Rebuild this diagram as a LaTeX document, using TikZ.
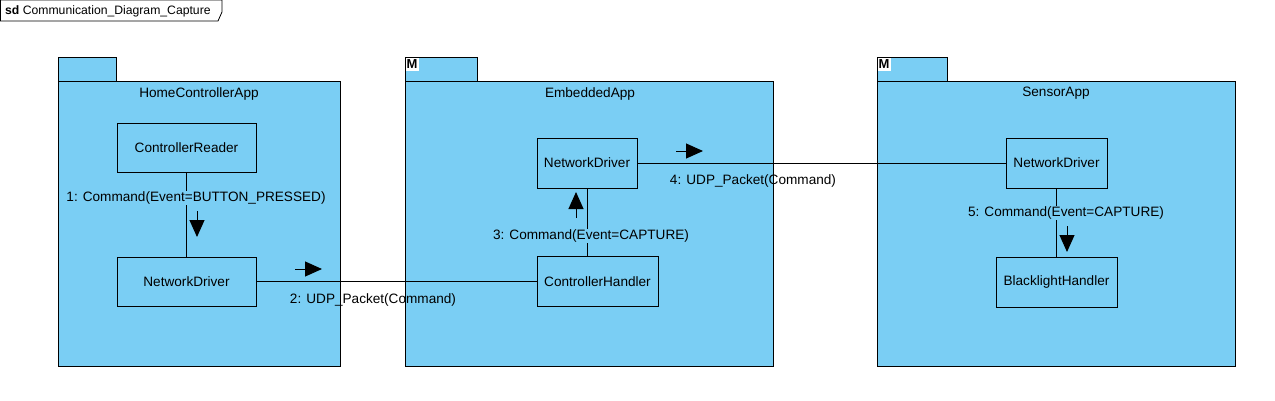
\documentclass[tikz,border=0pt]{standalone}
\usepackage{fontspec}
\setmainfont{Liberation Sans}
\usetikzlibrary{positioning,calc,arrows.meta}
\definecolor{pkgblue}{RGB}{122,206,244}
\tikzset{font=\fontsize{13.6}{16}\selectfont}

\begin{document}
\begin{tikzpicture}[x=1pt,y=-1pt,
	pkg/.style={draw, fill=pkgblue, line width=1pt, inner sep=0pt, anchor=north west},
	part/.style={draw, fill=pkgblue, line width=1pt, inner sep=0pt},
	msg/.style={fill=pkgblue, inner sep=1pt},
	micon/.style={fill=white, inner sep=0pt, minimum size=13pt, font=\fontsize{13}{13}\selectfont\bfseries},
	dir/.style={line width=1pt, -{Triangle[length=17pt,width=15pt]}}]
	\useasboundingbox (0,0) rectangle (1275,400);

	% sd frame
	\draw[line width=0.8pt] (0.5,0) -- (222,0) -- (222,12) -- (218,21) -- (0.5,21) -- cycle;
	\node[anchor=west, inner sep=0pt, font=\fontsize{12.2}{14}\selectfont] (sdtitle) at (5,11) {\textbf{sd} Communication\_Diagram\_Capture};

	% packages
	\node[pkg, minimum width=58, minimum height=24] (hometab) at (58,57) {};
	\node[pkg, minimum width=282, minimum height=285] (home) at (58,81) {};
	\node (hometitle) at (199,93.5) {HomeControllerApp};

	\node[pkg, minimum width=72, minimum height=24] (embtab) at (405,57) {};
	\node[pkg, minimum width=368, minimum height=285] (emb) at (405,81) {};
	\node[micon] (embm) at (412,64) {M};
	\node (embtitle) at (590,93.5) {EmbeddedApp};

	\node[pkg, minimum width=70, minimum height=24] (sentab) at (877,57) {};
	\node[pkg, minimum width=358, minimum height=285] (sen) at (877,81) {};
	\node[micon] (senm) at (884,64) {M};
	\node (sentitle) at (1056,93.5) {SensorApp};

	% parts
	\node[part, minimum width=139, minimum height=49] (reader) at (186.5,147.5) {ControllerReader};
	\node[part, minimum width=139, minimum height=49] (homend) at (186.5,281.5) {NetworkDriver};
	\node[part, minimum width=100, minimum height=50] (embnd) at (587,163) {NetworkDriver};
	\node[part, minimum width=121, minimum height=50] (handler) at (597.5,281.5) {ControllerHandler};
	\node[part, minimum width=101, minimum height=50] (sennd) at (1056.5,163) {NetworkDriver};
	\node[part, minimum width=121, minimum height=50] (blh) at (1056.5,282) {BlacklightHandler};

	% links
	\draw[line width=1pt] (reader) -- (homend);
	\draw[line width=1pt] (homend.east) -- (homend.east -| handler.west);
	\draw[line width=1pt] (embnd.south) -- (embnd.south |- handler.north);
	\draw[line width=1pt] (embnd.east) -- (sennd.west);
	\draw[line width=1pt] (sennd) -- (blh);

	% messages
	\node[msg] (m1) at (196,198) {1: Command(Event=BUTTON\_PRESSED)};
	\node[inner sep=1pt] (m2) at (373,299.5) {2: UDP\_Packet(Command)};
	\node[msg] (m3) at (591,236) {3: Command(Event=CAPTURE)};
	\node[inner sep=1pt] (m4) at (753,181) {4: UDP\_Packet(Command)};
	\node[msg] (m5) at (1066,213) {5: Command(Event=CAPTURE)};

	\coordinate (a1s) at (197,211); \coordinate (a1e) at (197,237);
	\coordinate (a2s) at (295,269); \coordinate (a2e) at (322,269);
	\coordinate (a3s) at (576,218); \coordinate (a3e) at (576,192);
	\coordinate (a4s) at (676,151); \coordinate (a4e) at (703,151);
	\coordinate (a5s) at (1067,226); \coordinate (a5e) at (1067,252);
	\draw[dir] (a1s) -- (a1e);
	\draw[dir] (a2s) -- (a2e);
	\draw[dir] (a3s) -- (a3e);
	\draw[dir] (a4s) -- (a4e);
	\draw[dir] (a5s) -- (a5e);
\end{tikzpicture}
\end{document}
